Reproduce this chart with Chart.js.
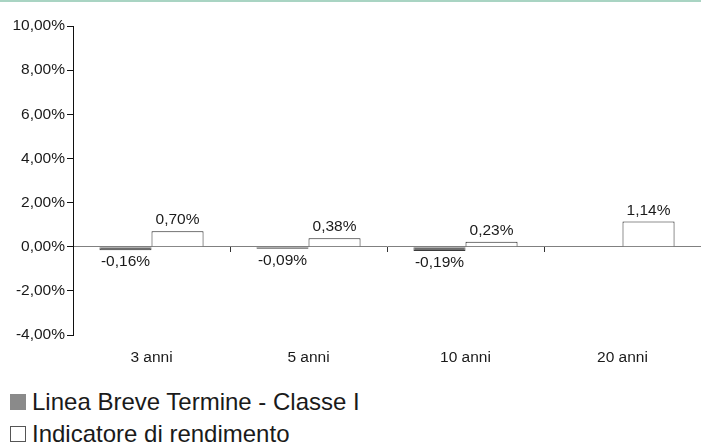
<!DOCTYPE html>
<html>
<head>
<meta charset="utf-8">
<script src="https://cdn.jsdelivr.net/npm/chart.js@4.4.0/dist/chart.umd.min.js"></script>
<style>
  html, body { margin: 0; padding: 0; background: #fff; }
  body { width: 701px; height: 444px; overflow: hidden; position: relative; font-family: "Liberation Sans", Arial, sans-serif; }
  #topline { position: absolute; left: 0; top: 0; width: 701px; height: 2px; background: #a9d4c3; }
  #wrap { position: absolute; left: 0; top: 1px; width: 701px; height: 370px; }
  #legend { position: absolute; left: 10px; top: 386px; color: #1a1a1a; font-size: 24px; line-height: 32px; }
  .item { display: flex; align-items: center; white-space: nowrap; }
  .sw { width: 16px; height: 16px; margin-right: 6px; box-sizing: border-box; }
</style>
</head>
<body>
<div id="topline"></div>
<div id="wrap"><canvas id="c"></canvas></div>
<div id="legend"></div>
<script>
const categories = ["3 anni", "5 anni", "10 anni", "20 anni"];
const seriesNames = ["Linea Breve Termine - Classe I", "Indicatore di rendimento"];
const fondoValues = [-0.16, -0.09, -0.19, null];
const indicatoreValues = [0.70, 0.38, 0.23, 1.14];
const yTicks = [-4, -2, 0, 2, 4, 6, 8, 10];

const fmt = v => v.toFixed(2).replace('.', ',') + '%';
const FONT = '"Liberation Sans", Arial, sans-serif';

const labelPlugin = {
  id: 'barLabels',
  afterDatasetsDraw(chart) {
    const ctx = chart.ctx;
    ctx.save();
    ctx.font = '15.5px ' + FONT;
    ctx.fillStyle = '#1a1a1a';
    ctx.textAlign = 'center';
    chart.data.datasets.forEach((ds, di) => {
      const meta = chart.getDatasetMeta(di);
      meta.data.forEach((bar, i) => {
        const v = ds.data[i];
        if (v === null || v === undefined) return;
        if (v >= 0) {
          ctx.textBaseline = 'alphabetic';
          ctx.fillText(fmt(v), bar.x, bar.y - 7);
        } else {
          ctx.textBaseline = 'top';
          ctx.fillText(fmt(v), bar.x, bar.y + 4);
        }
      });
    });
    ctx.restore();
  }
};

const chart = new Chart(document.getElementById('c'), {
  type: 'bar',
  data: {
    labels: categories,
    datasets: [
      { label: seriesNames[0], data: fondoValues, backgroundColor: '#6e6e6e', borderColor: '#3c3c3c', borderWidth: 1 },
      { label: seriesNames[1], data: indicatoreValues, backgroundColor: '#ffffff', borderColor: '#222222', borderWidth: 1 }
    ]
  },
  options: {
    responsive: true,
    maintainAspectRatio: false,
    animation: false,
    devicePixelRatio: 1,
    categoryPercentage: 0.663,
    barPercentage: 1,
    layout: { padding: { top: 25, right: 0, left: 0, bottom: 0 } },
    plugins: { legend: { display: false }, tooltip: { enabled: false } },
    scales: {
      x: {
        type: 'category',
        offset: true,
        border: { display: false },
        grid: { display: false },
        ticks: { color: '#1a1a1a', font: { size: 15.5, family: FONT }, padding: 5, maxRotation: 0 },
        afterFit(s) { s.height = 36; }
      },
      x2: {
        type: 'category',
        position: { y: 0 },
        offset: true,
        border: { display: true, color: '#808080', width: 1 },
        grid: { display: true, offset: true, drawOnChartArea: false, drawTicks: true, tickLength: 5, color: '#333' },
        ticks: { display: false }
      },
      y: {
        min: -4,
        max: 10,
        afterBuildTicks(s) { s.ticks = yTicks.map(v => ({ value: v })); },
        border: { display: true, color: '#111', width: 1 },
        grid: { drawOnChartArea: false, drawTicks: true, tickLength: 6, color: '#111' },
        ticks: { color: '#1a1a1a', font: { size: 15.5, family: FONT }, padding: 2, callback: v => fmt(v) },
        afterFit(s) { s.width = 73; }
      }
    }
  },
  plugins: [labelPlugin]
});

const legendColors = [{ bg: '#8a8a8a', bd: '#8a8a8a' }, { bg: '#ffffff', bd: '#555555' }];
const legend = document.getElementById('legend');
seriesNames.forEach((n, i) => {
  const item = document.createElement('div');
  item.className = 'item';
  const sw = document.createElement('span');
  sw.className = 'sw';
  sw.style.background = legendColors[i].bg;
  sw.style.border = '1px solid ' + legendColors[i].bd;
  const t = document.createElement('span');
  t.textContent = n;
  item.appendChild(sw);
  item.appendChild(t);
  legend.appendChild(item);
});
</script>
</body>
</html>
